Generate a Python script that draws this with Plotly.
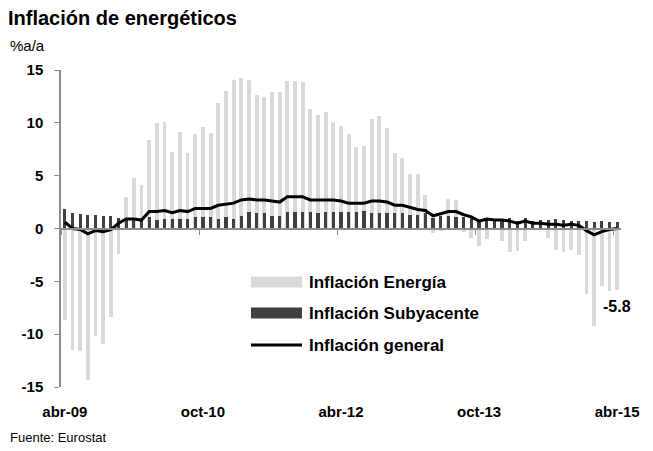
import plotly.graph_objects as go

# Monthly data, abr-09 ... abr-15
energia = [-8.7, -11.5, -11.6, -14.3, -10.2, -10.9, -8.4, -2.4, 3.0, 4.8,
           4.1, 8.4, 10.0, 10.1, 7.2, 9.1, 7.1, 8.9, 9.6, 9.0,
           11.9, 13.0, 14.1, 14.2, 14.1, 12.6, 12.4, 12.9, 12.9, 14.0,
           14.0, 13.9, 11.3, 10.7, 11.0, 10.1, 9.7, 8.9, 7.7, 7.8,
           10.4, 10.6, 9.5, 7.1, 6.7, 5.2, 5.2, 3.2, -0.4, -0.2,
           2.8, 2.7, -0.3, -0.9, -1.7, -1.0, 0.0, -1.2, -2.2, -2.1,
           -1.2, -0.1, 0.1, -0.9, -2.0, -2.2, -2.0, -2.5, -6.2, -9.2,
           -5.4, -5.9, -5.8]
subyacente = [1.8, 1.5, 1.4, 1.3, 1.3, 1.2, 1.2, 1.0, 1.0, 1.0,
              0.9, 1.1, 0.8, 0.9, 0.9, 0.9, 0.9, 1.1, 1.1, 1.1,
              0.9, 1.1, 0.9, 1.2, 1.6, 1.5, 1.5, 1.2, 1.2, 1.6,
              1.6, 1.6, 1.6, 1.5, 1.6, 1.6, 1.6, 1.6, 1.6, 1.7,
              1.5, 1.5, 1.5, 1.5, 1.5, 1.3, 1.3, 1.5, 1.0, 1.2,
              1.2, 1.1, 1.1, 1.0, 0.8, 0.9, 0.7, 0.8, 1.0, 0.7,
              1.0, 0.7, 0.8, 0.8, 0.9, 0.8, 0.7, 0.7, 0.7, 0.6,
              0.7, 0.6, 0.6]
general = [0.6, 0.0, -0.1, -0.5, -0.2, -0.3, -0.1, 0.5, 0.9, 0.9,
           0.8, 1.6, 1.6, 1.7, 1.5, 1.7, 1.6, 1.9, 1.9, 1.9,
           2.2, 2.3, 2.4, 2.7, 2.8, 2.7, 2.7, 2.6, 2.5, 3.0,
           3.0, 3.0, 2.7, 2.7, 2.7, 2.7, 2.6, 2.4, 2.4, 2.4,
           2.6, 2.6, 2.5, 2.2, 2.2, 2.0, 1.8, 1.7, 1.2, 1.4,
           1.6, 1.6, 1.3, 1.1, 0.7, 0.9, 0.8, 0.8, 0.7, 0.5,
           0.7, 0.5, 0.5, 0.4, 0.4, 0.3, 0.4, 0.3, -0.2, -0.6,
           -0.3, -0.1, 0.0]

mes_abrev = ["ene", "feb", "mar", "abr", "may", "jun", "jul", "ago", "sep", "oct", "nov", "dic"]
meses = []
for k in range(len(general)):
    m = (3 + k) % 12
    y = 9 + (3 + k) // 12
    meses.append(f"{mes_abrev[m]}-{y:02d}")
x_idx = list(range(len(meses)))

tick_labels = ["abr-09", "oct-10", "abr-12", "oct-13", "abr-15"]
tick_pos = [meses.index(t) for t in tick_labels]
y_ticks = [-15, -10, -5, 0, 5, 10, 15]
y_ticktext = [str(v) for v in y_ticks]
last_label = "-5.8"

FONT = "Arial, Liberation Sans, sans-serif"
GRAY_AX = "#8c8c8c"
C_ENER = "#d9d9d9"
C_SUB = "#404040"

fig = go.Figure()
fig.add_trace(go.Bar(x=x_idx, y=energia, width=0.5, marker=dict(color=C_ENER, line=dict(width=0)),
                     name="Inflación Energía", showlegend=False))
fig.add_trace(go.Bar(x=x_idx, y=subyacente, width=0.42, marker=dict(color=C_SUB, line=dict(width=0)),
                     name="Inflación Subyacente", showlegend=False))
fig.add_trace(go.Scatter(x=x_idx, y=general, mode="lines", line=dict(color="black", width=3),
                         name="Inflación general", showlegend=False, xaxis="x2"))

rng = [-0.5, len(meses) - 0.5]
fig.update_layout(
    width=653, height=451,
    margin=dict(l=61, r=32, t=70, b=64),
    paper_bgcolor="white", plot_bgcolor="white",
    barmode="overlay", bargap=0,
    font=dict(family=FONT, color="black"),
    title=dict(text="<b>Inflación de energéticos</b>", x=8/653, xref="container", xanchor="left",
               y=1-18/451, yref="container", yanchor="middle",
               font=dict(size=20, family=FONT, color="black")),
    xaxis=dict(range=rng, tickvals=tick_pos, ticktext=tick_labels, showline=False, showgrid=False,
               zeroline=False, ticks="outside", ticklen=11, tickcolor="rgba(0,0,0,0)",
               tickfont=dict(size=15, family=FONT, color="black", weight="bold")),
    xaxis2=dict(range=rng, overlaying="x", anchor="free", position=0.5, showline=True,
                linecolor=GRAY_AX, linewidth=2, showgrid=False, zeroline=False,
                tickvals=[p - 0.5 for p in tick_pos], ticks="outside", ticklen=5, tickwidth=1,
                tickcolor=GRAY_AX, showticklabels=False),
    yaxis=dict(range=[-15, 15], tickvals=y_ticks, ticktext=y_ticktext, showline=True,
               linecolor=GRAY_AX, linewidth=1.5,
               ticks="outside", ticklen=5, tickcolor=GRAY_AX, showgrid=False, zeroline=False,
               ticklabelstandoff=8,
               tickfont=dict(size=15, family=FONT, color="black", weight="bold")),
)

# text annotations
W, H = 560.0, 317.0
def px(xp):
    return (xp - 61) / W
def py(yp):
    return (387 - yp) / H

fig.add_annotation(text="%a/a", xref="paper", yref="paper", x=px(8), y=py(45), xanchor="left",
                   yanchor="middle", showarrow=False, font=dict(size=15, family=FONT))
fig.add_annotation(text="Fuente: Eurostat", xref="paper", yref="paper", x=px(8), y=py(438),
                   xanchor="left", yanchor="middle", showarrow=False, font=dict(size=13, family=FONT))
fig.add_annotation(text=f"<b>{last_label}</b>", x=x_idx[-1], y=energia[-1], yanchor="top", yshift=-6,
                   showarrow=False, font=dict(size=16, family=FONT))

# custom legend
leg_items = [("Inflación Energía", "bar", C_ENER, 282),
             ("Inflación Subyacente", "bar", C_SUB, 313),
             ("Inflación general", "line", "black", 345)]
for name, kind, col, yc in leg_items:
    if kind == "bar":
        fig.add_shape(type="rect", xref="paper", yref="paper", x0=px(251), x1=px(302),
                      y0=py(yc + 5.5), y1=py(yc - 5.5), fillcolor=col, line=dict(width=0))
    else:
        fig.add_shape(type="line", xref="paper", yref="paper", x0=px(251), x1=px(302),
                      y0=py(yc), y1=py(yc), line=dict(color=col, width=3))
    fig.add_annotation(text=f"<b>{name}</b>", xref="paper", yref="paper", x=px(307), y=py(yc),
                       xanchor="left", yanchor="middle", showarrow=False,
                       font=dict(size=17, family=FONT))

fig.write_html("out.html", config={"displayModeBar": False},
               post_script="document.body.style.margin='0';document.body.style.overflow='hidden';")
